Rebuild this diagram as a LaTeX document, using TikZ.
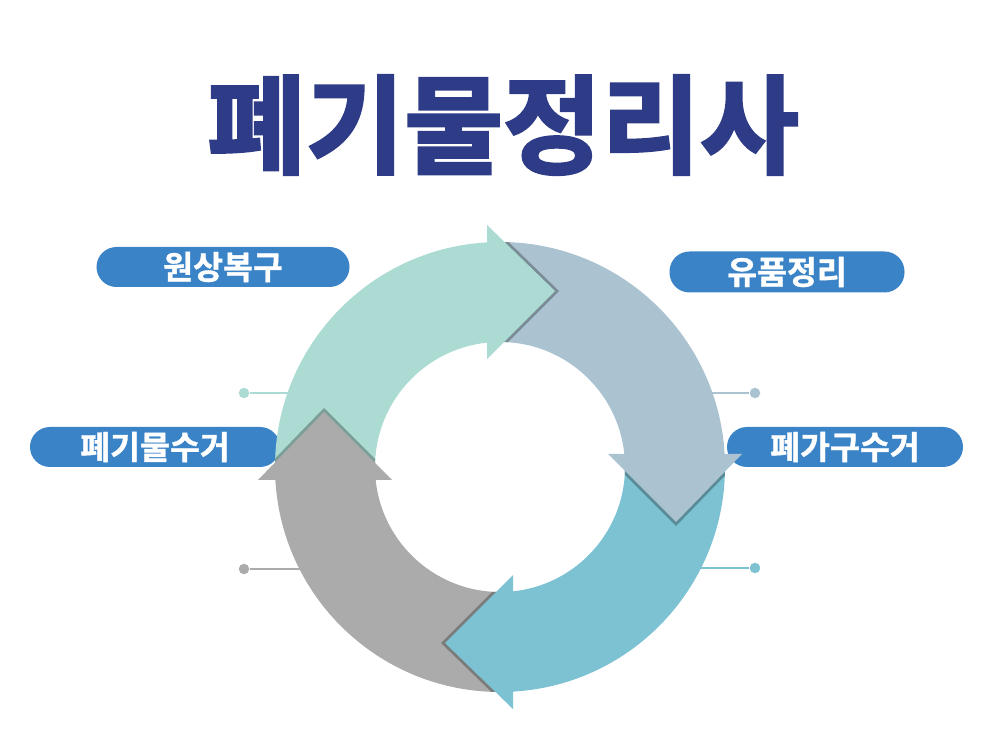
\documentclass[tikz,border=0pt]{standalone}
\usepackage{fontspec}
\newfontfamily\cjk{Noto Sans CJK KR}[UprightFont=* Bold, FakeBold=1.2]
\newfontfamily\cjkheavy{Noto Sans CJK KR}[UprightFont=* Bold, FakeBold=2.5]
\usepackage{xcolor}
\usepackage{tikz}

\definecolor{titleblue}{HTML}{2E3B86}
\definecolor{pillblue}{HTML}{3A83C6}
\definecolor{cteal}{HTML}{ABDBD2}
\definecolor{cslate}{HTML}{ABC2D1}
\definecolor{csky}{HTML}{7CC2D2}
\definecolor{cgray}{HTML}{ABABAB}

% ring pieces, centre at origin; the head points along +x at the top
\newcommand\bandpath[2]{(#1:225) arc[start angle=#1, end angle=#2, radius=225] -- (#2:125) arc[start angle=#2, end angle=#1, radius=125] -- cycle}
\newcommand\headpath{(-13,242) -- (55,176) -- (-13,108) -- cycle}

\begin{document}
\begin{tikzpicture}[x=0.2mm,y=0.2mm,
    pill/.style={fill=pillblue, text=white, rounded corners=4mm, minimum height=8mm, inner sep=0pt,
      font=\cjk\fontsize{18.5}{20}\selectfont},
    dot/.style={circle, fill=#1, minimum size=2.1mm, inner sep=0pt},
    lead/.style={draw=#1, line width=0.4mm}]
  \useasboundingbox (0,0) rectangle (1000,750);

  \node[pill, minimum width=50.6mm] (wonsang) at (223,483) {원상복구};
  \node[pill, minimum width=47mm, minimum height=8.2mm] (yupum) at (787,478) {유품정리};
  \node[pill, minimum width=50mm] (pyegimul) at (155,303) {폐기물수거};
  \node[pill, minimum width=47.2mm] (pyegagu) at (845,303) {폐가구수거};

  \node[dot=cteal] (dotA) at (244,357) {};
  \coordinate (endA) at (310,357);
  \draw[lead=cteal] (dotA) -- (endA);
  \node[dot=cslate] (dotB) at (755,357) {};
  \coordinate (endB) at (690,357);
  \draw[lead=cslate] (dotB) -- (endB);
  \node[dot=csky] (dotC) at (755,182) {};
  \coordinate (endC) at (690,182);
  \draw[lead=csky] (dotC) -- (endC);
  \node[dot=cgray] (dotD) at (244,181) {};
  \coordinate (endD) at (310,181);
  \draw[lead=cgray] (dotD) -- (endD);

  \begin{scope}[shift={(500,283)}]
    \fill[cteal] \bandpath{180}{92};
    \fill[cslate] \bandpath{90}{2};
    \fill[csky] \bandpath{0}{-88};
    \fill[cgray] \bandpath{-90}{-178};
    % shadows on the next band
    \begin{scope}
      \clip \bandpath{90}{2};
      \fill[cslate!72!black, shift={(4,0)}] \headpath;
    \end{scope}
    \begin{scope}
      \clip \bandpath{0}{-88};
      \fill[csky!72!black, rotate=-90, shift={(4,0)}] \headpath;
    \end{scope}
    \begin{scope}
      \clip \bandpath{-90}{-178};
      \fill[cgray!72!black, rotate=180, shift={(4,0)}] \headpath;
    \end{scope}
    \begin{scope}
      \clip \bandpath{180}{92};
      \fill[cteal!72!black, rotate=90, shift={(4,0)}] \headpath;
    \end{scope}
    \fill[cteal] \headpath;
    \fill[cslate, rotate=-90] \headpath;
    \fill[csky, rotate=180] \headpath;
    \fill[cgray, rotate=90] \headpath;
  \end{scope}

  \node[text=titleblue, font=\cjkheavy\fontsize{61}{64}\selectfont] (title) at (503,625) {폐기물정리사};
\end{tikzpicture}
\end{document}
